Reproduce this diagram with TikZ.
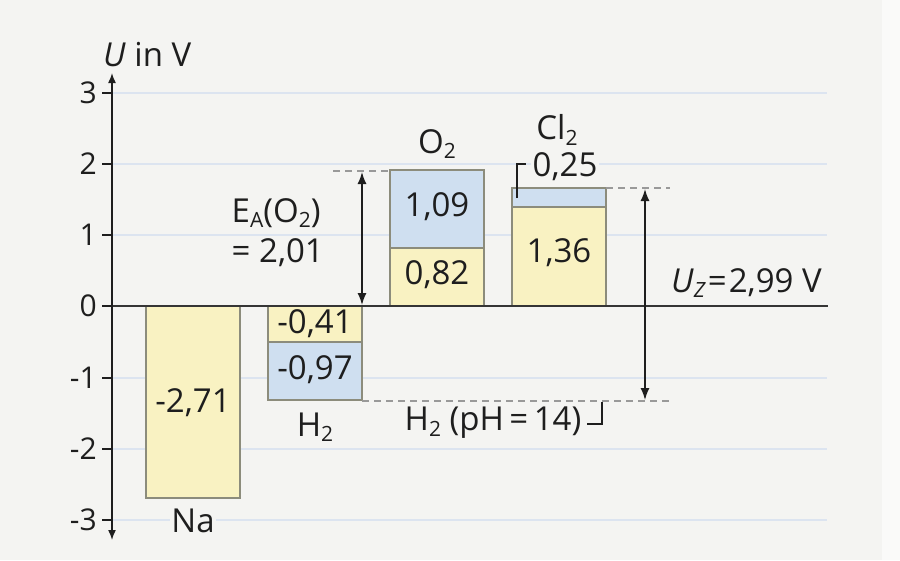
\documentclass[tikz,border=0pt]{standalone}
\usepackage{fontspec}
\setmainfont{Open Sans}
\usetikzlibrary{arrows.meta}
\definecolor{bg}{HTML}{F4F4F2}
\definecolor{grid}{HTML}{DCE4F0}
\definecolor{baryel}{HTML}{F9F2C2}
\definecolor{barblu}{HTML}{CFDFF0}
\definecolor{barln}{HTML}{8C8C7C}
\definecolor{ink}{HTML}{1E1E1E}
\newcommand\sbs[1]{\raisebox{-0.3ex}{\fontsize{21}{21}\selectfont #1}}
\tikzset{
  bar/.style={draw=barln, line width=1.4pt},
  gridln/.style={draw=grid, line width=1.6pt},
  ticklab/.style={anchor=east, text=ink, font=\fontsize{30}{34}\selectfont, inner sep=0pt},
  lab/.style={text=ink, font=\fontsize{33}{38}\selectfont, inner sep=1.5pt},
  lbg/.style={lab, fill=bg},
  dashln/.style={draw=gray!80, dash pattern=on 7pt off 5pt, line width=1.2pt},
  dimln/.style={draw=ink, line width=1.5pt, {Latex[length=12pt,width=9pt]}-{Latex[length=12pt,width=9pt]}},
  bracket/.style={draw=ink, line width=1.1pt},
}
\begin{document}
\begin{tikzpicture}[x=1pt,y=-1pt]
\useasboundingbox (0,0) rectangle (900,560);
\fill[bg] (0,0) rectangle (900,560);
\fill[white!55!bg] (882,0) rectangle (900,560);
% grid lines
\foreach \yy in {93,164,235,378,449,520} \draw[gridln] (112,\yy) -- (827,\yy);
% bars
\draw[bar, fill=baryel] (146,306) rectangle (240,498);
\draw[bar, fill=baryel] (268,306) rectangle (362,342);
\draw[bar, fill=barblu] (268,342) rectangle (362,400);
\draw[bar, fill=barblu] (390,170) rectangle (484,248);
\draw[bar, fill=baryel] (390,248) rectangle (484,306);
\draw[bar, fill=barblu] (512,188) rectangle (606,207);
\draw[bar, fill=baryel] (512,207) rectangle (606,306);
% zero line
\draw[draw=ink!90, line width=2pt] (102,306) -- (828,306);
% axis
\coordinate (atop) at (112,73);
\coordinate (abot) at (112,540);
\draw[draw=ink, line width=1.5pt, {Latex[length=10pt,width=8pt]}-{Latex[length=10pt,width=8pt]}] (abot) -- (atop);
\foreach \yy/\t in {93/3,164/2,235/1,306/0,378/-1,449/-2,520/-3}{
  \draw[draw=ink, line width=1.5pt] (102,\yy) -- (112,\yy);
  \node[ticklab] at (97,\yy) {\t};
}
\node[lab, anchor=base west, inner sep=0pt] (ulab) at (103,66) {\textit{U} in V};
% bar labels
\node[lab] (na) at (193,403) {-2,71};
\node[lbg] (nal) at (193,521) {Na};
\node[lab] (h1) at (315,324) {-0,41};
\node[lab] (h2) at (315,370) {-0,97};
\node[lbg] (h2l) at (315,427) {H\sbs{2}};
\node[lab] (o1) at (437,207) {1,09};
\node[lab] (o2) at (437,275) {0,82};
\node[lbg] (o2l) at (437,144) {O\sbs{2}};
\node[lab] (c1) at (559,253) {1,36};
\node[lbg] (c2l) at (557,130) {Cl\sbs{2}};
\node[lbg, anchor=west] (c25) at (531,167) {0,25};
\draw[bracket] (517,198) -- (517,164) -- (526,164);
% E_A arrow
\coordinate (ea1) at (333,171);
\coordinate (ea2) at (390,171);
\draw[dashln] (ea1) -- (ea2);
\coordinate (eatop) at (362,172);
\coordinate (eabot) at (362,305);
\draw[dimln] (eabot) -- (eatop);
\node[lbg, anchor=west] (ea) at (230,213) {E\sbs{A}(O\sbs{2})};
\node[lbg, anchor=west] (eav) at (230,253) {= 2,01};
% U_Z arrow
\coordinate (uz1) at (606,188);
\coordinate (uz2) at (670,188);
\draw[dashln] (uz1) -- (uz2);
\coordinate (uz3) at (362,401);
\coordinate (uz4) at (670,401);
\draw[dashln] (uz3) -- (uz4);
\coordinate (uztop) at (645,189);
\coordinate (uzbot) at (645,400);
\draw[dimln] (uzbot) -- (uztop);
\node[lbg, anchor=west, inner sep=0pt] (uz) at (671,283) {\textit{U}\sbs{\textit{Z}}\kern2pt=\kern2pt2,99 V};
\node[lbg, anchor=east] (ph) at (583,423) {H\sbs{2} (pH\,=\,14)};
\draw[bracket] (587,424) -- (602,424) -- (602,402);
\end{tikzpicture}
\end{document}
